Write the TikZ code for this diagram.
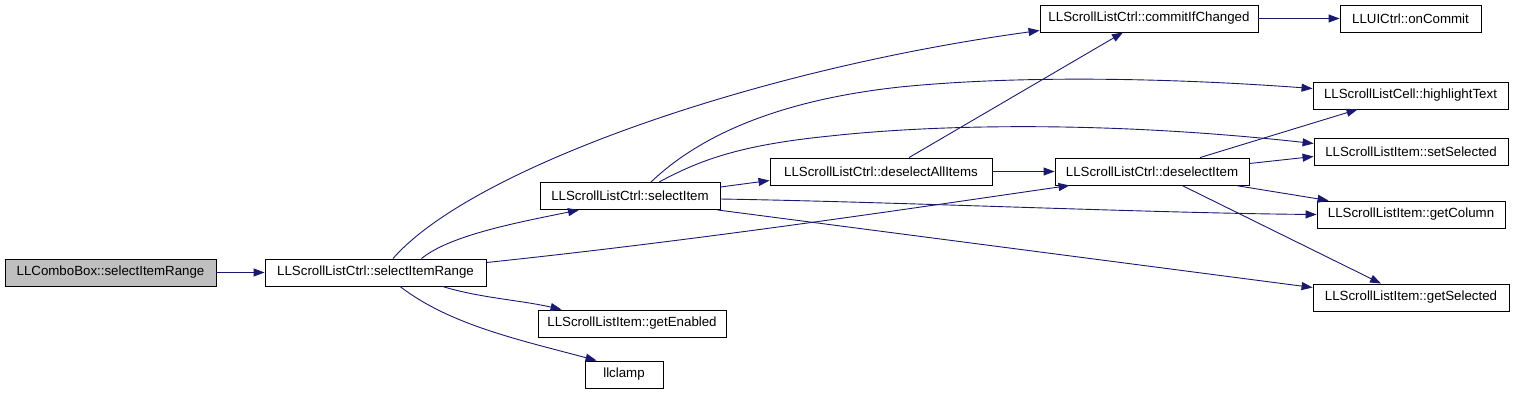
\documentclass[tikz,border=0pt]{standalone}
\usepackage{fontspec}
\setmainfont{Liberation Sans}
\usetikzlibrary{arrows.meta,calc}
\definecolor{edgeblue}{HTML}{191970}
\begin{document}
\begin{tikzpicture}[x=1pt,y=-1pt,
  box/.style={draw=black, line width=0.9pt, fill=white, minimum height=27pt, inner sep=0pt, font=\fontsize{13.3}{16}\selectfont},
  edge/.style={draw=edgeblue, line width=0.9pt, -{Triangle[length=11pt,width=8pt]}},
]
\useasboundingbox (0,0) rectangle (1515,392);
\fill[white] (0,0) rectangle (1515,392);

\node[box, fill=gray!50, minimum width=211pt] (A) at (110.5,272.5) {LLComboBox::selectItemRange};
\node[box, minimum width=221pt] (B) at (375.5,272.5) {LLScrollListCtrl::selectItemRange};
\node[box, minimum width=180pt] (C) at (630,196) {LLScrollListCtrl::selectItem};
\node[box, minimum width=188pt] (D) at (632,323.5) {LLScrollListItem::getEnabled};
\node[box, minimum width=78pt] (E) at (624,374.5) {llclamp};
\node[box, minimum width=222pt] (F) at (881,171.5) {LLScrollListCtrl::deselectAllItems};
\node[box, minimum width=218pt] (G) at (1149,18.5) {LLScrollListCtrl::commitIfChanged};
\node[box, minimum width=194pt] (H) at (1152,171.5) {LLScrollListCtrl::deselectItem};
\node[box, minimum width=141pt] (I) at (1410.5,18.5) {LLUICtrl::onCommit};
\node[box, minimum width=195pt] (J) at (1410.5,95.5) {LLScrollListCell::highlightText};
\node[box, minimum width=194pt] (K) at (1411,151.5) {LLScrollListItem::setSelected};
\node[box, minimum width=188pt] (L) at (1411,214.5) {LLScrollListItem::getColumn};
\node[box, minimum width=196pt] (M) at (1411,297.5) {LLScrollListItem::getSelected};

\draw[edge] (A) -- (B);
\draw[edge] ($(B.north)+(46,0)$) .. controls (450,235) and (520,222) .. ($(C.south)+(-51,0)$);
\draw[edge] ($(B.north)+(17.5,0)$) .. controls (470,170) and (750,70) .. ($(G.west)+(0,12)$);
\draw[edge] ($(B.east)+(0,-10)$) .. controls (700,240) and (900,210) .. ($(H.south west)+(15,0)$);
\draw[edge] ($(B.south)+(67,0)$) .. controls (480,298) and (520,300) .. ($(D.north west)+(24,0)$);
\draw[edge] ($(B.south)+(24.5,0)$) .. controls (450,325) and (520,340) .. ($(E.north west)+(12,0)$);

\draw[edge] ($(C.east)+(0,-9)$) -- ($(F.west)+(0,9)$);
\draw[edge] ($(C.north)+(21,0)$) .. controls (700,135) and (780,100) .. (900,87) .. controls (1020,75) and (1170,78) .. ($(J.west)+(0,-7)$);
\draw[edge] ($(C.north)+(29,0)$) .. controls (700,160) and (740,145) .. (830,136) .. controls (930,125) and (1100,120) .. ($(K.west)+(0,-8)$);
\draw[edge] ($(C.east)+(0,3)$) .. controls (900,202) and (1150,213) .. (L.west);
\draw[edge] ($(C.south east)+(-3,0)$) -- ($(M.west)+(0,-10)$);

\draw[edge] ($(F.north)+(28,0)$) -- ($(G.south)+(-26,0)$);
\draw[edge] (F) -- (H);
\draw[edge] (G) -- (I);

\draw[edge] ($(H.north)+(48,0)$) -- ($(J.south west)+(45,0)$);
\draw[edge] ($(H.east)+(0,-8)$) -- ($(K.west)+(0,5)$);
\draw[edge] ($(H.south east)+(-14,0)$) -- ($(L.north west)+(12,0)$);
\draw[edge] ($(H.south)+(30,0)$) -- ($(M.north)+(-30,0)$);
\end{tikzpicture}
\end{document}
